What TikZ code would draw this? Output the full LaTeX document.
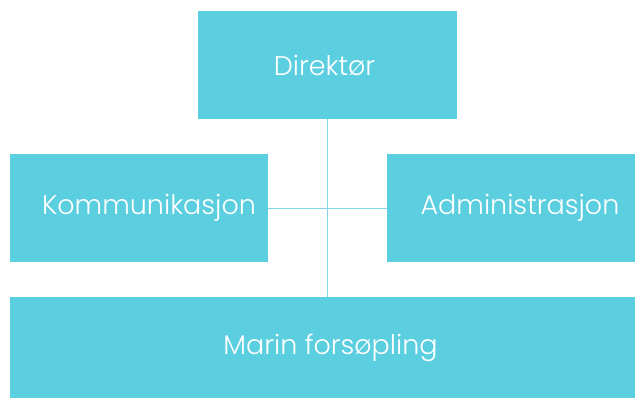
\documentclass[tikz,border=0pt]{standalone}
\usepackage{fontspec}
\setmainfont{Poppins Light}
\usepackage{tikz}
\usetikzlibrary{positioning}
\definecolor{unitcyan}{RGB}{91,206,224}
\definecolor{linkcyan}{RGB}{130,214,228}
\tikzset{
  unit/.style={fill=unitcyan, inner sep=0pt, minimum height=108pt},
  unitname/.style={text=white, inner sep=0pt, font=\fontsize{27}{30}\selectfont},
  link/.style={draw=linkcyan, line width=0.9pt}
}
\begin{document}
\begin{tikzpicture}[x=1pt, y=-1pt]
  \useasboundingbox (0,0) rectangle (635,398);
  % boxes
  \node[unit, minimum width=259pt, label={[unitname, xshift=-3pt]center:Direktør}] (direktor) at (327.5,65) {};
  \node[unit, minimum width=258pt, label={[unitname, xshift=10pt]center:Kommunikasjon}] (kommunikasjon) at (139,208) {};
  \node[unit, minimum width=248pt, label={[unitname, xshift=9pt]center:Administrasjon}] (administrasjon) at (511,208) {};
  \node[unit, minimum width=625pt, minimum height=101pt, label={[unitname, xshift=8pt]center:Marin forsøpling}] (marin) at (322.5,347.5) {};
  % lines
  \draw[link] (direktor.south) -- (direktor.south |- marin.north);
  \draw[link] (kommunikasjon.east) -- (administrasjon.west);
\end{tikzpicture}
\end{document}
